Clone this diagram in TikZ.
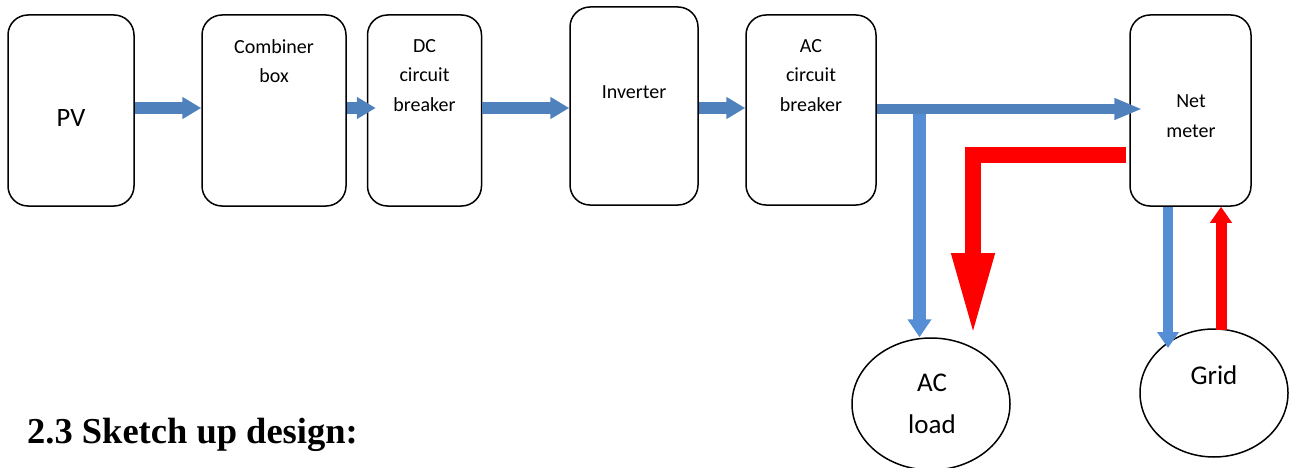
\documentclass[tikz,border=0pt]{standalone}
\usepackage{fontspec}
\setmainfont{Carlito}
\newfontfamily\headfont{Liberation Serif}
\usetikzlibrary{arrows.meta,shapes.geometric}
\definecolor{flowblue}{RGB}{79,129,189}
\definecolor{feedblue}{RGB}{85,142,213}
\definecolor{gridred}{RGB}{255,0,0}
\begin{document}
\begin{tikzpicture}[x=1pt,y=-1pt,
  block/.style={draw=black, line width=1.5pt, rounded corners=20pt, fill=white, inner sep=0pt},
  sink/.style={draw=black, line width=1.5pt, ellipse, fill=white, inner sep=0pt},
  txt/.style={align=center, inner sep=0pt, font=\fontsize{20}{29.5}\selectfont},
  bigtxt/.style={align=center, inner sep=0pt, font=\fontsize{27}{42}\selectfont},
  chain/.style={draw=flowblue, line width=12pt, -{Triangle[length=19pt,width=21pt]}},
  tofeed/.style={draw=feedblue, line width=#1},
  redflow/.style={draw=gridred, line width=#1, line join=miter}]
\useasboundingbox (0,0) rectangle (1295,468);

% blocks of the PV chain
\node[block, minimum width=126pt, minimum height=191pt] (pv)   at (71,110.5) {};
\node[block, minimum width=144pt, minimum height=191pt] (comb) at (274,110.5) {};
\node[block, minimum width=114pt, minimum height=191pt] (dccb) at (424.5,110.5) {};
\node[block, minimum width=128pt, minimum height=198pt] (inv)  at (634,106) {};
\node[block, minimum width=130pt, minimum height=190pt] (accb) at (811,110) {};
\node[block, minimum width=121pt, minimum height=191pt] (nm)   at (1190.5,110.5) {};

% consumers
\node[sink, minimum width=158pt, minimum height=132pt] (load) at (931,404) {};
\node[sink, minimum width=148pt, minimum height=128pt] (grid) at (1214,393) {};

% labels
\node[txt, font=\fontsize{26.5}{30}\selectfont] (pvt) at (71,118) {PV};
\node[txt] (combt) at (274,61) {Combiner\\box};
\node[txt] (dccbt) at (424.5,75.5) {DC\\circuit\\breaker};
\node[txt] (invt)  at (634,92) {Inverter};
\node[txt] (accbt) at (811,75.5) {AC\\circuit\\breaker};
\node[txt] (nmt)   at (1191,116) {Net\\meter};
\node[bigtxt] (loadt) at (932,404) {AC\\load};
\node[bigtxt] (gridt) at (1214,375) {Grid};

% DC and AC power flow
\draw[chain] (pv.east |- 0,108)   -- (comb.west |- 0,108);
\draw[chain] (comb.east |- 0,108) -- ([xshift=9pt]dccb.west |- 0,108);
\draw[chain] (dccb.east |- 0,108) -- (inv.west |- 0,108);
\draw[chain] (inv.east |- 0,108)  -- (accb.west |- 0,108);
\coordinate (tee) at (919.5,109);
\draw[draw=flowblue, line width=10pt, -{Triangle[length=28pt,width=20pt]}]
  (accb.east |- tee) -- ([xshift=13pt]nm.west |- tee);

% branch to the AC load
\draw[tofeed=13pt, -{Triangle[length=18pt,width=23pt]}]
  ([yshift=-5pt]tee) -- (tee |- load.north);

% supply from the grid through the meter to the load
\coordinate (bend) at (973,155);
\coordinate (redtip) at (973,337);
\draw[redflow=16pt, -{Triangle[length=84pt,width=39pt]}]
  ([xshift=-3pt]nm.west |- bend) -- (bend) -- (redtip);

% exchange between meter and grid
\coordinate (gridin) at (1168,348);
\draw[tofeed=10pt, -{Triangle[length=16pt,width=21pt]}]
  (nm.south -| gridin) -- (gridin);
\coordinate (gridout) at (1221,330);
\draw[redflow=11pt, -{Triangle[length=16pt,width=21pt]}]
  (gridout) -- (nm.south -| gridout);

% section heading
\node[anchor=base west, inner sep=0pt, font=\headfont\bfseries\fontsize{36.5}{40}\selectfont]
  (heading) at (27,443) {2.3 Sketch up design:};
\end{tikzpicture}
\end{document}
